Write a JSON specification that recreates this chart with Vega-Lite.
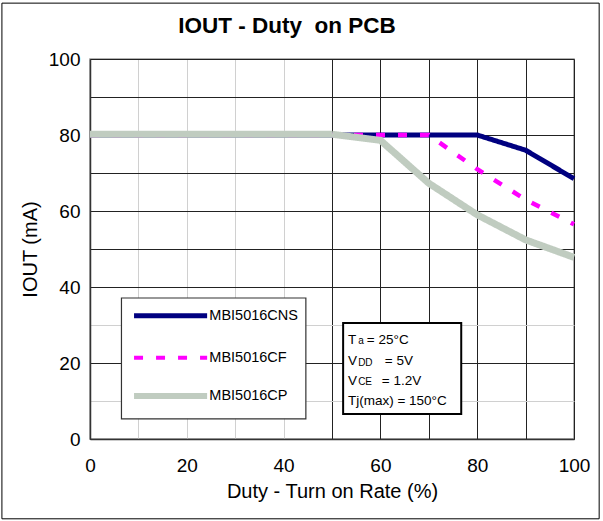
{
  "$schema": "https://vega.github.io/schema/vega-lite/v6.json",
  "width": 484,
  "height": 380,
  "autosize": {"type": "none"},
  "padding": {"left": 90, "top": 59, "right": 29, "bottom": 82},
  "background": "white",
  "config": {
    "font": "Liberation Sans",
    "view": {"stroke": "#999999", "strokeWidth": 1.5},
    "axis": {
      "labelFont": "Liberation Sans",
      "labelFontSize": 19,
      "labelColor": "#000000",
      "labelFlush": false,
      "titleFont": "Liberation Sans",
      "titleFontSize": 20,
      "titleFontWeight": "normal",
      "titleColor": "#000000",
      "domainColor": "#333333",
      "domainWidth": 1.5,
      "ticks": false,
      "gridWidth": 1
    }
  },
  "title": {
    "text": "IOUT - Duty\u00a0 on PCB",
    "font": "Liberation Sans",
    "fontSize": 22.5,
    "fontWeight": "bold",
    "color": "#000000",
    "anchor": "middle",
    "dx": -45,
    "offset": -35
  },
  "datasets": {
    "curves": [
      {"series": "MBI5016CNS", "duty": 0, "iout": 80},
      {"series": "MBI5016CNS", "duty": 50, "iout": 80},
      {"series": "MBI5016CNS", "duty": 60, "iout": 80},
      {"series": "MBI5016CNS", "duty": 70, "iout": 80},
      {"series": "MBI5016CNS", "duty": 80, "iout": 80},
      {"series": "MBI5016CNS", "duty": 90, "iout": 76},
      {"series": "MBI5016CNS", "duty": 100, "iout": 68.5},
      {"series": "MBI5016CF", "duty": 0, "iout": 80},
      {"series": "MBI5016CF", "duty": 50, "iout": 80},
      {"series": "MBI5016CF", "duty": 60, "iout": 80},
      {"series": "MBI5016CF", "duty": 70, "iout": 80},
      {"series": "MBI5016CF", "duty": 80, "iout": 71},
      {"series": "MBI5016CF", "duty": 90, "iout": 63},
      {"series": "MBI5016CF", "duty": 100, "iout": 56.5},
      {"series": "MBI5016CP", "duty": 0, "iout": 80.2},
      {"series": "MBI5016CP", "duty": 50, "iout": 80.2},
      {"series": "MBI5016CP", "duty": 60, "iout": 78.6},
      {"series": "MBI5016CP", "duty": 70, "iout": 67.3},
      {"series": "MBI5016CP", "duty": 80, "iout": 59},
      {"series": "MBI5016CP", "duty": 90, "iout": 52.4},
      {"series": "MBI5016CP", "duty": 100, "iout": 47.8}
    ],
    "frame": [{"duty": -18.2, "duty2": 105.2, "iout": 114.7, "iout2": -21}],
    "legendbox": [{"duty": 6.5, "duty2": 44.6, "iout": 37.1, "iout2": 5.3}],
    "legendkeys": [
      {"series": "MBI5016CNS", "duty": 9.1, "duty2": 24.2, "iout": 32.45},
      {"series": "MBI5016CF", "duty": 9.1, "duty2": 24.2, "iout": 21.4},
      {"series": "MBI5016CP", "duty": 9.1, "duty2": 24.2, "iout": 11.3}
    ],
    "legendlabels": [
      {"series": "MBI5016CNS", "duty": 24.65, "iout": 32.45},
      {"series": "MBI5016CF", "duty": 24.65, "iout": 21.4},
      {"series": "MBI5016CP", "duty": 24.65, "iout": 11.3}
    ],
    "infobox": [{"duty": 52.3, "duty2": 76.7, "iout": 30.5, "iout2": 6.6}],
    "notes": [
      {"text": "T", "kind": "main", "duty": 53.3, "iout": 26.05},
      {"text": "a", "kind": "sub", "duty": 55.4, "iout": 25.7},
      {"text": "= 25°C", "kind": "main", "duty": 57.2, "iout": 26.05},
      {"text": "V", "kind": "main", "duty": 53.3, "iout": 20.5},
      {"text": "DD", "kind": "sub", "duty": 55.4, "iout": 20.1},
      {"text": "= 5V", "kind": "main", "duty": 60.9, "iout": 20.5},
      {"text": "V", "kind": "main", "duty": 53.3, "iout": 15.3},
      {"text": "CE", "kind": "sub", "duty": 55.4, "iout": 14.9},
      {"text": "= 1.2V", "kind": "main", "duty": 60.3, "iout": 15.3},
      {"text": "Tj(max) = 150°C", "kind": "main", "duty": 53.3, "iout": 10.0}
    ]
  },
  "encoding": {
    "x": {
      "field": "duty",
      "type": "quantitative",
      "title": "Duty - Turn on Rate (%)",
      "scale": {"domain": [0, 100], "nice": false},
      "axis": {
        "values": [0, 10, 20, 30, 40, 50, 60, 70, 80, 90, 100],
        "labelExpr": "datum.value % 20 === 0 ? datum.label : ''",
        "labelPadding": 17,
        "titlePadding": 6,
        "gridColor": {
          "condition": {"test": "datum.value > 0 && datum.value < 50", "value": "#d0d0d0"},
          "value": "#222222"
        }
      }
    },
    "y": {
      "field": "iout",
      "type": "quantitative",
      "title": "IOUT (mA)",
      "scale": {"domain": [0, 100], "nice": false},
      "axis": {
        "values": [0, 10, 20, 30, 40, 50, 60, 70, 80, 90, 100],
        "labelExpr": "datum.value % 20 === 0 ? datum.label : ''",
        "labelPadding": 10,
        "titlePadding": 8,
        "gridColor": {
          "condition": {"test": "datum.value === 10 || datum.value === 30", "value": "#d0d0d0"},
          "value": "#222222"
        }
      }
    }
  },
  "layer": [
    {
      "data": {"name": "frame"},
      "mark": {"type": "rect", "fill": null, "fillOpacity": 0, "stroke": "#000000", "strokeWidth": 1},
      "encoding": {
        "x2": {"field": "duty2"},
        "y2": {"field": "iout2"}
      }
    },
    {
      "data": {"name": "curves"},
      "mark": {"type": "line", "strokeCap": "butt", "strokeJoin": "miter"},
      "encoding": {
        "color": {
          "field": "series",
          "type": "nominal",
          "scale": {
            "domain": ["MBI5016CNS", "MBI5016CF", "MBI5016CP"],
            "range": ["#000080", "#FF00FF", "#C0CCC0"]
          },
          "legend": null
        },
        "strokeDash": {
          "field": "series",
          "type": "nominal",
          "scale": {
            "domain": ["MBI5016CNS", "MBI5016CF", "MBI5016CP"],
            "range": [[1, 0], [9, 13], [1, 0]]
          },
          "legend": null
        },
        "strokeWidth": {
          "condition": [
            {"test": "datum.series === 'MBI5016CP'", "value": 7},
            {"test": "datum.series === 'MBI5016CF'", "value": 4.5}
          ],
          "value": 5
        }
      }
    },
    {
      "data": {"name": "legendbox"},
      "mark": {"type": "rect", "fill": "#ffffff", "stroke": "#333333", "strokeWidth": 1.2},
      "encoding": {
        "x2": {"field": "duty2"},
        "y2": {"field": "iout2"}
      }
    },
    {
      "data": {"name": "legendkeys"},
      "mark": {"type": "rule", "strokeCap": "butt"},
      "encoding": {
        "x2": {"field": "duty2"},
        "color": {"field": "series", "type": "nominal", "legend": null},
        "strokeDash": {"field": "series", "type": "nominal", "legend": null},
        "strokeWidth": {
          "condition": [
            {"test": "datum.series === 'MBI5016CP'", "value": 6},
            {"test": "datum.series === 'MBI5016CF'", "value": 4}
          ],
          "value": 5
        }
      }
    },
    {
      "data": {"name": "legendlabels"},
      "mark": {"type": "text", "align": "left", "baseline": "middle", "font": "Liberation Sans", "fontSize": 14.5, "color": "#000000"},
      "encoding": {
        "text": {"field": "series"}
      }
    },
    {
      "data": {"name": "infobox"},
      "mark": {"type": "rect", "fill": "#ffffff", "stroke": "#000000", "strokeWidth": 2},
      "encoding": {
        "x2": {"field": "duty2"},
        "y2": {"field": "iout2"}
      }
    },
    {
      "data": {"name": "notes"},
      "mark": {"type": "text", "align": "left", "baseline": "middle", "font": "Liberation Sans", "color": "#000000"},
      "encoding": {
        "text": {"field": "text"},
        "size": {
          "condition": {"test": "datum.kind === 'sub'", "value": 10},
          "value": 13.5
        }
      }
    }
  ]
}
